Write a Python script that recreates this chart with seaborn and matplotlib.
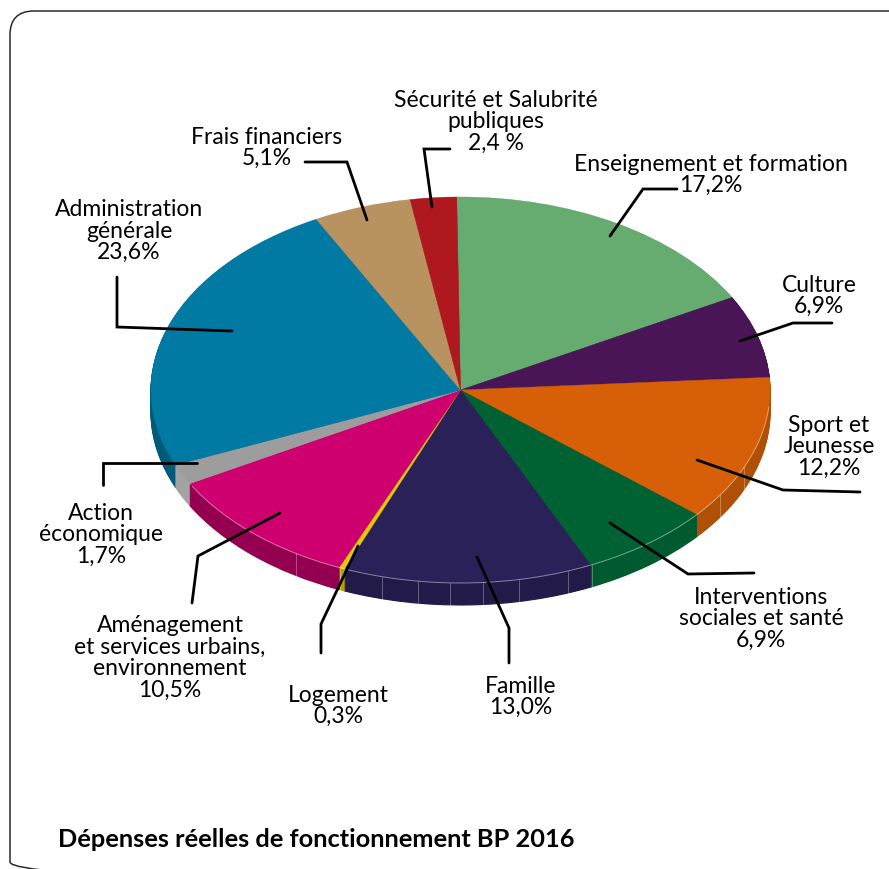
import numpy as np
import matplotlib
matplotlib.use('Agg')
import matplotlib.pyplot as plt
from matplotlib.patches import FancyBboxPatch
import seaborn as sns

# labels as printed, clockwise from the top of the pie
labels = ["Enseignement et formation\n17,2%", "Culture\n6,9%", "Sport et\nJeunesse\n12,2%",
          "Interventions\nsociales et santé\n6,9%", "Famille\n13,0%", "Logement\n0,3%",
          "Aménagement\net services urbains,\nenvironnement\n10,5%", "Action\néconomique\n1,7%",
          "Administration\ngénérale\n23,6%", "Frais financiers\n5,1%", "Sécurité et Salubrité\npubliques\n2,4 %"]
values = [17.2, 6.9, 12.2, 6.9, 13.0, 0.3, 10.5, 1.7, 23.6, 5.1, 2.4]
colors = ["#66AB6F", "#4A1556", "#D65F07", "#006233", "#292157", "#E8C900",
          "#CE0070", "#9D9D9D", "#0079A3", "#B8925F", "#B01820"]
# darker wall colours
side = ["#4F8556", "#380F40", "#B05005", "#005A2F", "#221B49", "#B9A000",
        "#94004F", "#A3A3A3", "#005A78", "#8F7149", "#861218"]
title = "Dépenses réelles de fonctionnement BP 2016"

sns.set_theme(style="white")
plt.rcParams['font.family'] = ['Lato', 'DejaVu Sans']

W, H = 889, 870
# pie geometry in pixels
cx, cy, rx, ry, depth = 460.5, 391, 309.5, 193, 22
start = 90.7

fig = plt.figure(figsize=(W / 100, H / 100), dpi=100)

# pie axes: one data unit = one radius, so the circle comes out squashed
ax = fig.add_axes([0, 0, 1, 1])
for d in np.arange(depth, 0, -1):
    wedges, _ = ax.pie(values, colors=side, startangle=start, counterclock=False, center=(0, -d / ry))
    for w in wedges:
        w.set_edgecolor(w.get_facecolor())
        w.set_linewidth(0.8)
wedges, _ = ax.pie(values, colors=colors, startangle=start, counterclock=False)
for w in wedges:
    w.set_edgecolor(w.get_facecolor())
    w.set_linewidth(0.3)
    w.set_zorder(5)
ax.set_aspect('auto')
ax.set_xlim(-cx / rx, (W - cx) / rx)
ax.set_ylim((cy - H) / ry, cy / ry)

# thin light rim along the front of the top face
th = np.radians(np.linspace(-150, -5, 200))
ax.plot(np.cos(th), np.sin(th), color='white', alpha=0.45, lw=0.7, zorder=6)
# facets on the front of the side wall
for px in [296, 340, 382, 418, 450, 483, 519, 568, 592, 720, 744]:
    x = (px - cx) / rx
    y = -np.sqrt(1 - x * x)
    ax.plot([x, x], [y, y - depth / ry], color='white', alpha=0.3, lw=0.7, zorder=6)

# overlay in pixel coordinates for frame, leaders and text
ov = fig.add_axes([0, 0, 1, 1])
ov.set_xlim(0, W)
ov.set_ylim(H, 0)
ov.axis('off')
ov.patch.set_alpha(0)
ov.add_patch(FancyBboxPatch((10, 12), 960, 875, boxstyle="round,pad=0,rounding_size=24",
                            fc='none', ec='#2b2b2b', lw=1.1))

leaders = [
    [(677, 190), (643, 190), (610, 237)],
    [(832, 324), (793, 324), (740, 342)],
    [(860, 493), (783, 491), (697, 461)],
    [(754, 574), (688, 575), (610, 524)],
    [(509, 664), (509, 629), (477, 558)],
    [(321, 654), (321, 625), (358, 547)],
    [(192, 604), (198, 557), (280, 514)],
    [(103, 486), (103, 464), (197, 464)],
    [(117, 278), (117, 328), (232, 332)],
    [(305, 163), (347, 163), (367, 221)],
    [(450, 150), (424, 150), (432, 208)],
]
for pts in leaders:
    xs, ys = zip(*pts)
    ov.plot(xs, ys, color='black', lw=2.0, solid_joinstyle='miter', zorder=8)

# label centres
anchors = [(711, 175), (819, 296), (829, 447), (761, 619), (521, 697), (338, 706),
           (170, 658), (101, 535), (129, 231), (267, 148), (496, 122)]
for lab, (x, y) in zip(labels, anchors):
    ov.text(x, y, lab, ha='center', va='center', fontsize=16.5, color='black',
            linespacing=1.04, zorder=9)

ov.text(58, 840, title, ha='left', va='center', fontsize=18.3, fontweight='bold', color='black')

fig.savefig('out.png', dpi=100)
